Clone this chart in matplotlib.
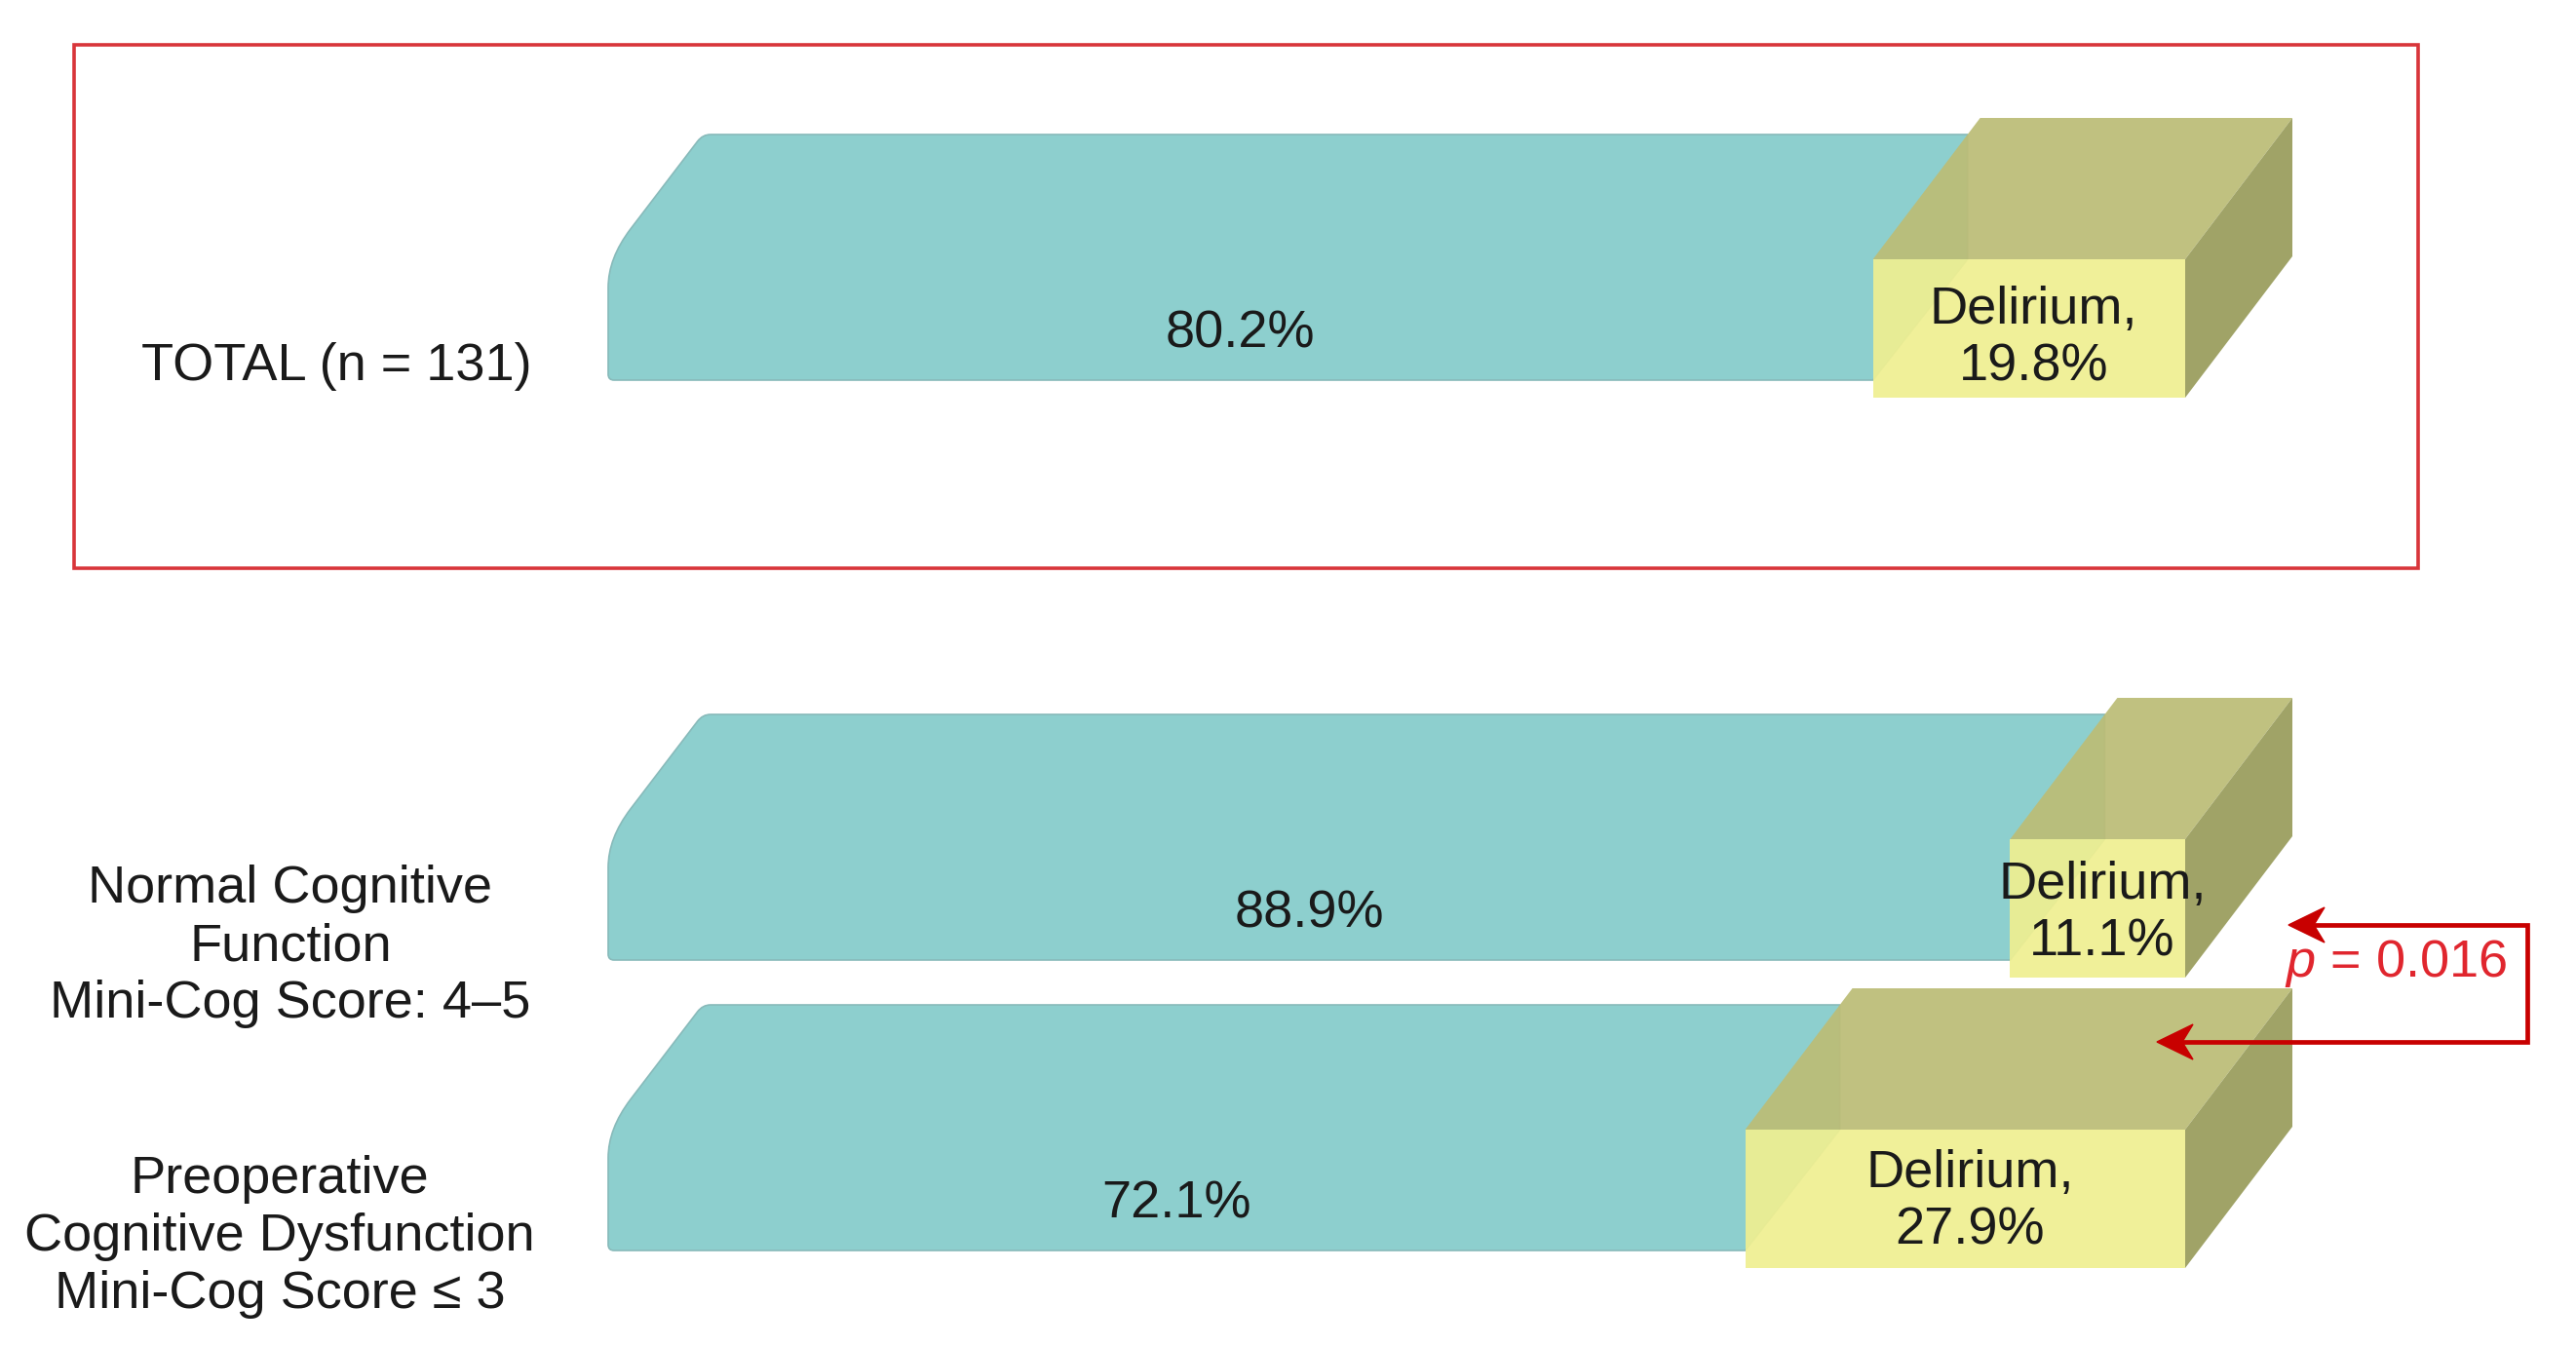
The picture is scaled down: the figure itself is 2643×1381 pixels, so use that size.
import matplotlib
matplotlib.use("Agg")
import matplotlib.pyplot as plt
from matplotlib.patches import Polygon, PathPatch, Rectangle
from matplotlib.path import Path

plt.rcParams['font.family'] = ['Liberation Sans', 'DejaVu Sans']
plt.rcParams['mathtext.fontset'] = 'custom'
plt.rcParams['mathtext.it'] = 'Liberation Sans:italic'
plt.rcParams['mathtext.rm'] = 'Liberation Sans'

# ---------------- data ----------------
categories = ["TOTAL (n = 131)",
              "Normal Cognitive\nFunction\nMini-Cog Score: 4\u20135",
              "Preoperative\nCognitive Dysfunction\nMini-Cog Score \u2264 3"]
no_delirium = [80.2, 88.9, 72.1]
delirium = [19.8, 11.1, 27.9]
no_delirium_labels = ["80.2%", "88.9%", "72.1%"]
delirium_labels = ["Delirium,\n19.8%", "Delirium,\n11.1%", "Delirium,\n27.9%"]
p_label = r"$\mathit{p}$ = 0.016"

# ---------------- layout ----------------
W, H = 2643, 1381
fig = plt.figure(figsize=(W / 100, H / 100), dpi=100)
ax = fig.add_axes([0, 0, 1, 1])
X0_PX, X100_PX = 624, 2242
ppu = (X100_PX - X0_PX) / 100.0          # pixels per percent unit
def px(x):
    return (x - X0_PX) / ppu
ax.set_xlim(px(0), px(W))
ax.set_ylim(H, 0)
ax.axis('off')

row_bottom = [408, 1003, 1301]          # bottom of front faces (px rows)
FRONT_H = 142
DEPTH_Y = 145
DEPTH_X = 110 / ppu
TEAL_DX = 97 / ppu
TEAL_KNEE = 127
label_x = [345, 298, 287]
label_y = [376, 971, 1269]
delirium_dy = [10, 5, 3]

TEAL = '#8DCFCE'
TEAL_EDGE = '#88BABA'
FRONT = '#EFEF91'
TOP = '#BCBD76'
SIDE = '#A0A367'
FS = 39
LS = 1.23

slope_u = TEAL_DX / TEAL_KNEE

for i, (cat, nd, d) in enumerate(zip(categories, no_delirium, delirium)):
    fb = row_bottom[i]
    ftop = fb - FRONT_H
    split = nd
    total = nd + d
    # teal bar (no delirium)
    ybot = fb - 18
    ytop = ftop - DEPTH_Y + 17
    yk = ytop + TEAL_KNEE
    r = 6 / ppu
    c = 30
    verts = [
        (r, ybot),
        (0, ybot), (0, ybot - 6),
        (0, yk + c),
        (0, yk), (c * slope_u, yk - c),
        (TEAL_DX - 7 * slope_u, ytop + 7),
        (TEAL_DX, ytop), (TEAL_DX + 8 / ppu, ytop),
        (split + TEAL_DX, ytop),
        (split + TEAL_DX, ftop),
        (split, ybot),
        (r, ybot),
    ]
    codes = [Path.MOVETO,
             Path.CURVE3, Path.CURVE3,
             Path.LINETO,
             Path.CURVE3, Path.CURVE3,
             Path.LINETO,
             Path.CURVE3, Path.CURVE3,
             Path.LINETO, Path.LINETO, Path.LINETO,
             Path.CLOSEPOLY]
    ax.add_patch(PathPatch(Path(verts, codes), facecolor=TEAL,
                           edgecolor=TEAL_EDGE, lw=1.2, zorder=2))
    ax.text(split / 2, ftop + FRONT_H / 2 + 5, no_delirium_labels[i],
            ha='center', va='center', fontsize=FS, color='#1a1a1a', zorder=5)

    # yellow 3D box (delirium)
    a = 0.93
    ax.add_patch(Polygon([(split, ftop), (total, ftop),
                          (total + DEPTH_X, ftop - DEPTH_Y),
                          (split + DEPTH_X, ftop - DEPTH_Y)],
                         closed=True, facecolor=TOP, edgecolor='none',
                         alpha=a, zorder=3))
    ax.add_patch(Polygon([(total, ftop), (total + DEPTH_X, ftop - DEPTH_Y),
                          (total + DEPTH_X, fb - DEPTH_Y), (total, fb)],
                         closed=True, facecolor=SIDE, edgecolor='none',
                         zorder=3))
    ax.add_patch(Rectangle((split, ftop), d, FRONT_H, facecolor=FRONT,
                           edgecolor='none', alpha=a, zorder=3))
    ax.text((split + total) / 2 + 0.3, ftop + FRONT_H / 2 + delirium_dy[i],
            delirium_labels[i], ha='center', va='center', fontsize=FS,
            color='#1a1a1a', linespacing=LS, zorder=5)

    # category label
    ax.text(px(label_x[i]), label_y[i], cat, ha='center', va='center',
            fontsize=FS, color='#1a1a1a', linespacing=LS, zorder=5)

# red frame around TOTAL
ax.add_patch(Rectangle((px(76), 46), px(2481) - px(76), 583 - 46,
                       facecolor='none', edgecolor='#D8353A', lw=2.6,
                       zorder=1))

# p-value bracket with arrows
ARROW = '#C80000'
xr = px(2593)
y_up, y_lo = 949, 1069
tip_up, tip_lo = px(2348), px(2213)
L, HW, N = 37 / ppu, 18, 26 / ppu
ax.plot([tip_up + N, xr, xr, tip_lo + N], [y_up, y_up, y_lo, y_lo],
        color=ARROW, lw=3.4, solid_joinstyle='miter', zorder=6)
for xt, yy in [(tip_up, y_up), (tip_lo, y_lo)]:
    ax.add_patch(Polygon([(xt, yy), (xt + L, yy - HW), (xt + N, yy),
                          (xt + L, yy + HW)], closed=True,
                         facecolor=ARROW, edgecolor=ARROW, lw=1, zorder=6))
ax.text(px(2344), 988, p_label, ha='left', va='center', fontsize=FS,
        color='#E0262E', zorder=6)

fig.savefig('out.png', dpi=100, facecolor='white')
